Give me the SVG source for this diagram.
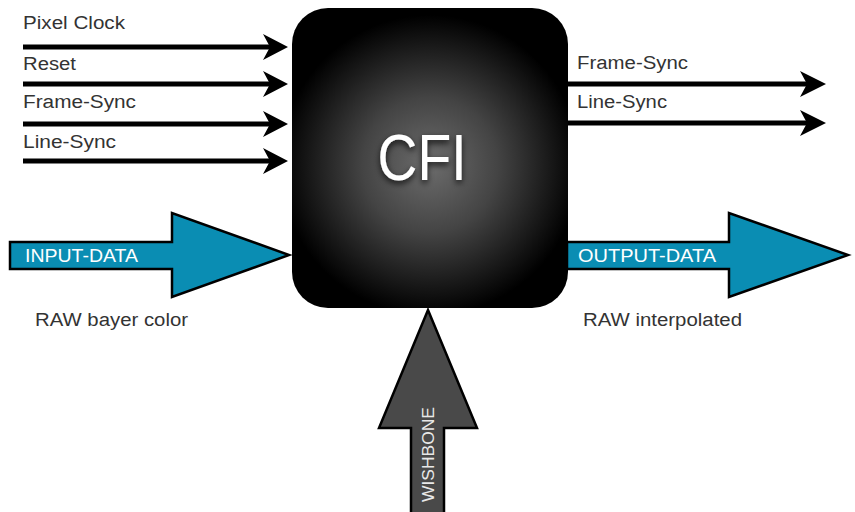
<svg xmlns="http://www.w3.org/2000/svg" width="855" height="512" viewBox="0 0 855 512">
<style>
.lbl{font-family:"Liberation Sans",Arial,sans-serif;font-size:18px;fill:#333}
.wlbl{font-family:"Liberation Sans",Arial,sans-serif;font-size:18px;fill:#fff}
.sig{stroke:#000;stroke-width:5;fill:none}
.head{fill:#000}
.big{fill:#0a8db3;stroke:#000;stroke-width:2.5;stroke-linejoin:miter}
</style>
<defs>
<radialGradient id="g" gradientUnits="userSpaceOnUse" cx="430" cy="165" r="150">
<stop offset="0" stop-color="#6c6c6c"/>
<stop offset="0.45" stop-color="#444"/>
<stop offset="1" stop-color="#000"/>
</radialGradient>
<filter id="sh" x="-20%" y="-20%" width="140%" height="150%">
<feDropShadow dx="0" dy="3" stdDeviation="3" flood-color="#000" flood-opacity="0.8"/>
</filter>
</defs>
<rect width="855" height="512" fill="#fff"/>
<g id="connectors">
<line class="sig" x1="23" y1="47" x2="270" y2="47"/>
<path class="head" d="M288,47 L263,34 L270,47 L263,60 Z"/>
<line class="sig" x1="23" y1="84" x2="270" y2="84"/>
<path class="head" d="M288,84 L263,71 L270,84 L263,97 Z"/>
<line class="sig" x1="23" y1="124" x2="270" y2="124"/>
<path class="head" d="M288,124 L263,111 L270,124 L263,137 Z"/>
<line class="sig" x1="23" y1="161" x2="270" y2="161"/>
<path class="head" d="M288,161 L263,148 L270,161 L263,174 Z"/>
<line class="sig" x1="566" y1="84" x2="808" y2="84"/>
<path class="head" d="M826,84 L800,71 L807,84 L800,97 Z"/>
<line class="sig" x1="566" y1="123" x2="808" y2="123"/>
<path class="head" d="M826,123 L800,110 L807,123 L800,136 Z"/>
</g>
<g id="labels">
<text class="lbl" x="23" y="29" textLength="102" lengthAdjust="spacingAndGlyphs">Pixel Clock</text>
<text class="lbl" x="23" y="70" textLength="53" lengthAdjust="spacingAndGlyphs">Reset</text>
<text class="lbl" x="23" y="108" textLength="113" lengthAdjust="spacingAndGlyphs">Frame-Sync</text>
<text class="lbl" x="23" y="148" textLength="93" lengthAdjust="spacingAndGlyphs">Line-Sync</text>
<text class="lbl" x="577" y="69" textLength="111" lengthAdjust="spacingAndGlyphs">Frame-Sync</text>
<text class="lbl" x="577" y="108" textLength="90" lengthAdjust="spacingAndGlyphs">Line-Sync</text>
</g>
<g id="input-data">
<path class="big" d="M10,242 L172,242 L172,213 L289,255 L172,297 L172,269 L10,269 Z"/>
<text class="wlbl" x="25" y="262" textLength="113" lengthAdjust="spacingAndGlyphs">INPUT-DATA</text>
<text class="lbl" x="35" y="326" textLength="153" lengthAdjust="spacingAndGlyphs">RAW bayer color</text>
</g>
<g id="output-data">
<path class="big" d="M567,242 L729,242 L729,213 L848,255 L729,297 L729,269 L567,269 Z"/>
<text class="wlbl" x="578" y="262" textLength="138" lengthAdjust="spacingAndGlyphs">OUTPUT-DATA</text>
<text class="lbl" x="583" y="326" textLength="159" lengthAdjust="spacingAndGlyphs">RAW interpolated</text>
</g>
<g id="wishbone">
<path d="M428,310 L477,428 L444,428 L444,514 L411,514 L411,428 L379,428 Z" fill="#494949" stroke="#000" stroke-width="2.5"/>
<text transform="translate(433.5,502) rotate(-90)" font-family="Liberation Sans,Arial,sans-serif" font-size="16.5" fill="#e8e8e8" textLength="95" lengthAdjust="spacingAndGlyphs">WISHBONE</text>
</g>
<g id="cfi">
<rect x="292" y="8" width="276" height="300" rx="36" ry="36" fill="url(#g)"/>
<text x="422" y="180" text-anchor="middle" font-family="Liberation Sans,Arial,sans-serif" font-size="64" fill="#fff" filter="url(#sh)" textLength="89" lengthAdjust="spacingAndGlyphs">CFI</text>
</g>
</svg>
